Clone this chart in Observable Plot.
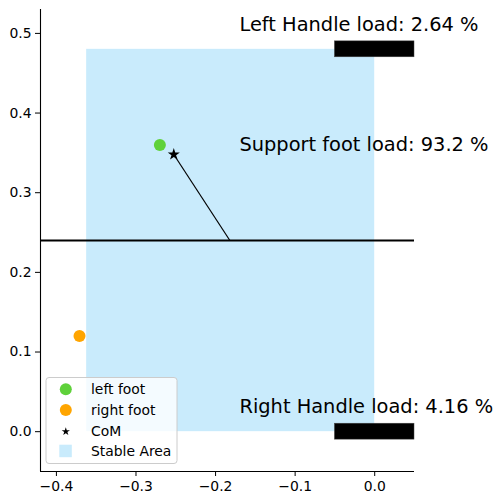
<!DOCTYPE html>
<html>
<head>
<meta charset="utf-8">
<script src="https://cdn.jsdelivr.net/npm/d3@7"></script>
<script src="https://cdn.jsdelivr.net/npm/@observablehq/plot@0.6"></script>
<style>
  html, body { margin: 0; padding: 0; background: #fff; }
  #chart { width: 496px; height: 493px; }
</style>
</head>
<body>
<div id="chart"></div>
<script>
// ---- data ----
const footNames = ["left foot", "right foot"];
const footX = [-0.27, -0.371];
const footY = [0.36, 0.12];
const footColors = ["#5fd13a", "#ffa500"];

const comX = -0.2525;
const comY = 0.348;
const projX = -0.182;
const projY = 0.24;

const supportLineY = 0.24;

const stableX = [-0.362, 0.0];
const stableY = [0.0, 0.48];

const handleNames = ["Left Handle", "Right Handle"];
const handleX1 = [-0.05, -0.05];
const handleX2 = [0.05, 0.05];
const handleY1 = [0.47, -0.01];
const handleY2 = [0.49, 0.01];

const loadLabels = ["Left Handle load: 2.64 %", "Support foot load: 93.2 %", "Right Handle load: 4.16 %"];
const loadLabelX = [-0.17, -0.17, -0.17];
const loadLabelY = [0.503, 0.352, 0.023];

const xTicks = [-0.4, -0.3, -0.2, -0.1, 0.0];
const yTicks = [0.0, 0.1, 0.2, 0.3, 0.4, 0.5];
const xDomain = [-0.42, 0.05];
const yDomain = [-0.05, 0.53];

const legendLabels = ["left foot", "right foot", "CoM", "Stable Area"];
const stableColor = "#c9ebfc";

// ---- tables ----
const feet = footNames.map((n, i) => ({name: n, x: footX[i], y: footY[i], color: footColors[i]}));
const handles = handleNames.map((n, i) => ({name: n, x1: handleX1[i], x2: handleX2[i], y1: handleY1[i], y2: handleY2[i]}));
const labels = loadLabels.map((t, i) => ({text: t, x: loadLabelX[i], y: loadLabelY[i]}));

const W = 496, H = 493;
const font = "DejaVu Sans";

const plot = Plot.plot({
  width: W,
  height: H,
  marginLeft: 40,
  marginRight: 82,
  marginTop: 9,
  marginBottom: 22,
  style: {fontFamily: font, background: "#fff", color: "#000", overflow: "visible"},
  x: {domain: xDomain, ticks: xTicks, tickFormat: d3.format(".1f")},
  y: {domain: yDomain, ticks: yTicks, tickFormat: d3.format(".1f")},
  marks: [
    Plot.rect([{x1: stableX[0], x2: stableX[1], y1: stableY[0], y2: stableY[1]}],
      {x1: "x1", x2: "x2", y1: "y1", y2: "y2", fill: stableColor}),
    Plot.ruleY([supportLineY], {stroke: "#000", strokeWidth: 2}),
    Plot.link([{x1: comX, y1: comY, x2: projX, y2: projY}],
      {x1: "x1", y1: "y1", x2: "x2", y2: "y2", stroke: "#000", strokeWidth: 1.2}),
    Plot.dot(feet, {x: "x", y: "y", r: 6, fill: "color", stroke: null}),
    Plot.dot([{x: comX, y: comY}], {x: "x", y: "y", symbol: "star", r: 3.8, fill: "#000", stroke: null}),
    Plot.rect(handles, {x1: "x1", x2: "x2", y1: "y1", y2: "y2", fill: "#000", stroke: "#444", strokeWidth: 0.5}),
    Plot.text(labels, {x: "x", y: "y", text: "text", textAnchor: "start", lineAnchor: "bottom",
      fontSize: 19.4, fill: "#000", fontFamily: font}),
    Plot.ruleX([xDomain[0]], {stroke: "#000", strokeWidth: 1.1}),
    Plot.ruleY([yDomain[0]], {stroke: "#000", strokeWidth: 1.1}),
    Plot.axisX({ticks: xTicks, tickFormat: d3.format(".1f"), tickSize: 5, tickPadding: 4.5,
      fontSize: 13.9, label: null, stroke: "#000", fill: "#000"}),
    Plot.axisY({ticks: yTicks, tickFormat: d3.format(".1f"), tickSize: 5, tickPadding: 4,
      fontSize: 13.9, label: null, stroke: "#000", fill: "#000"})
  ]
});

document.getElementById("chart").appendChild(plot);

// ---- legend (drawn into the same svg) ----
const svg = d3.select(plot);
const lg = svg.append("g").attr("font-family", font).attr("font-size", 13.9)
  .attr("text-anchor", "start");
lg.append("rect")
  .attr("x", 46).attr("y", 377.5).attr("width", 131).attr("height", 86)
  .attr("rx", 3).attr("fill", "#fff").attr("fill-opacity", 0.8)
  .attr("stroke", "#cccccc").attr("stroke-width", 1);
const rowY = [389.3, 410, 431.5, 451];
const mx = 65.8;
lg.append("circle").attr("cx", mx).attr("cy", rowY[0]).attr("r", 6).attr("fill", footColors[0]);
lg.append("circle").attr("cx", mx).attr("cy", rowY[1]).attr("r", 6).attr("fill", footColors[1]);
lg.append("path").attr("d", d3.symbol(d3.symbolStar, 2.6 * 2.6 * Math.PI)())
  .attr("transform", `translate(${mx},${rowY[2]})`).attr("fill", "#000");
lg.append("rect").attr("x", 59.3).attr("y", rowY[3] - 6.3).attr("width", 12.5).attr("height", 12.5)
  .attr("fill", stableColor);
legendLabels.forEach((t, i) => {
  lg.append("text").attr("x", 91).attr("y", rowY[i]).attr("dy", "0.35em")
    .attr("text-anchor", "start").attr("fill", "#000").text(t);
});
</script>
</body>
</html>
